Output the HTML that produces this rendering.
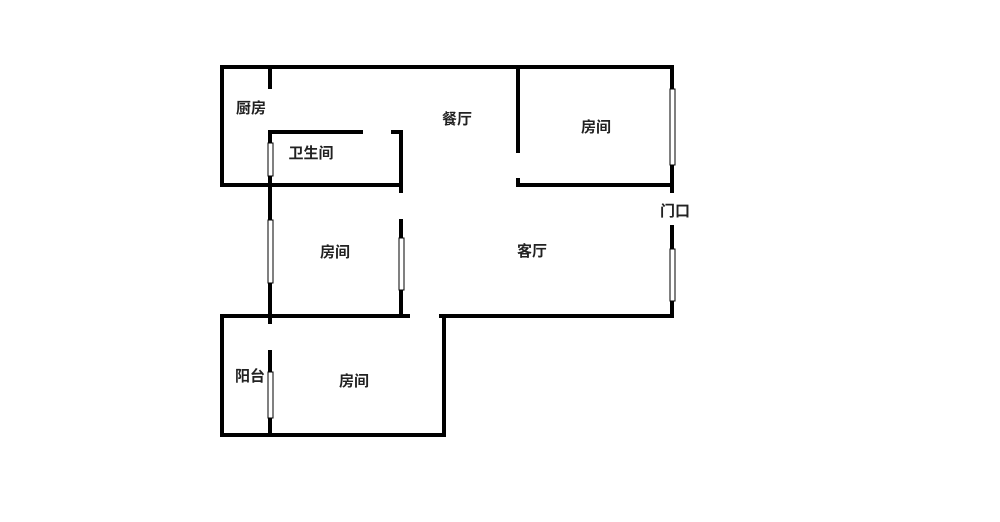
<!DOCTYPE html>
<html><head><meta charset="utf-8"><style>
html,body{margin:0;padding:0;background:#fff;width:1000px;height:522px;overflow:hidden}
svg{display:block}
text{font-family:"Liberation Sans","Noto Sans CJK SC",sans-serif;font-size:15px;font-weight:bold;fill:#222;text-anchor:middle;dominant-baseline:middle}
</style></head><body>
<svg width="1000" height="522" viewBox="0 0 1000 522">
<g stroke="#000" stroke-width="4" fill="none" stroke-linecap="square">
<line x1="222" y1="67" x2="672" y2="67"/>
<line x1="222" y1="67" x2="222" y2="185"/>
<line x1="222" y1="185" x2="401" y2="185"/>
<line x1="270" y1="67" x2="270" y2="87"/>
<line x1="270" y1="132" x2="270" y2="322"/>
<line x1="270" y1="132" x2="361" y2="132"/>
<line x1="393" y1="132" x2="401" y2="132"/>
<line x1="401" y1="132" x2="401" y2="191"/>
<line x1="401" y1="221" x2="401" y2="316"/>
<line x1="222" y1="316" x2="408" y2="316"/>
<line x1="441" y1="316" x2="672" y2="316"/>
<line x1="444" y1="316" x2="444" y2="435"/>
<line x1="222" y1="435" x2="444" y2="435"/>
<line x1="222" y1="316" x2="222" y2="435"/>
<line x1="270" y1="352" x2="270" y2="435"/>
<line x1="518" y1="67" x2="518" y2="151"/>
<line x1="518" y1="180" x2="518" y2="185"/>
<line x1="518" y1="185" x2="672" y2="185"/>
<line x1="672" y1="67" x2="672" y2="191"/>
<line x1="672" y1="227" x2="672" y2="316"/>
</g>
<g fill="#fff" stroke="#000" stroke-width="1">
<rect x="268" y="143" width="5" height="33"/>
<rect x="268" y="220" width="5" height="63"/>
<rect x="399" y="238" width="5" height="52"/>
<rect x="268" y="372" width="5" height="46"/>
<rect x="670" y="89" width="5" height="76"/>
<rect x="670" y="249" width="5" height="52"/>
</g>
<text x="251" y="109">厨房</text>
<text x="311" y="154">卫生间</text>
<text x="457" y="120">餐厅</text>
<text x="596" y="128">房间</text>
<text x="675" y="212">门口</text>
<text x="335" y="253">房间</text>
<text x="532" y="252">客厅</text>
<text x="250" y="377">阳台</text>
<text x="354" y="382">房间</text>
</svg>
</body></html>
